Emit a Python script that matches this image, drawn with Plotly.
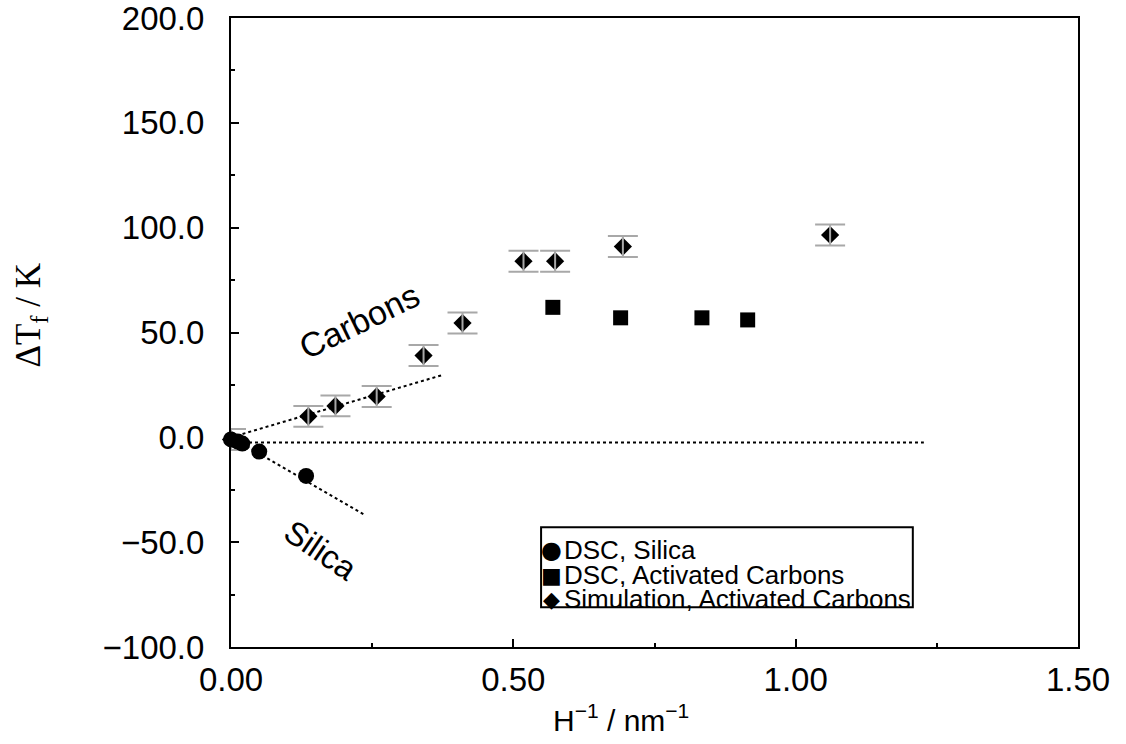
import plotly.graph_objects as go

# ---- data ----
silica_x = [0.0, 0.012, 0.02, 0.05, 0.133]
silica_y = [-1.0, -2.0, -3.0, -6.8, -18.4]

carbon_dsc_x = [0.57, 0.69, 0.834, 0.915]
carbon_dsc_y = [62.0, 57.0, 57.0, 56.0]

sim_x = [0.0, 0.137, 0.185, 0.258, 0.341, 0.41, 0.518, 0.574, 0.694, 1.061]
sim_y = [-1.0, 10.0, 15.0, 19.5, 39.0, 54.5, 84.0, 84.0, 91.0, 96.5]
sim_err = [5.0, 5.0, 5.0, 5.0, 5.0, 5.0, 5.0, 5.0, 5.0, 5.0]

carbon_fit_x = [0.0, 0.373]
carbon_fit_y = [0.0, 29.6]
silica_fit_x = [0.0, 0.238]
silica_fit_y = [0.0, -37.2]
zero_line_x = [0.0, 1.227]
zero_line_y = [-2.5, -2.5]

x_ticks = [0.0, 0.5, 1.0, 1.5]
y_ticks = [-100, -50, 0, 50, 100, 150, 200]

legend_labels = ["DSC, Silica", "DSC, Activated Carbons", "Simulation, Activated Carbons"]
legend_glyphs = ["\u25cf", "\u25a0", "\u25c6"]

SANS = "Liberation Sans, Arial, Helvetica, sans-serif"
SERIF = "Liberation Serif, Times New Roman, serif"

fig = go.Figure()

dot = dict(color="black", width=2, dash="3px,3px")
fig.add_trace(go.Scatter(x=zero_line_x, y=zero_line_y, mode="lines", line=dot,
                         showlegend=False, hoverinfo="skip"))
fig.add_trace(go.Scatter(x=carbon_fit_x, y=carbon_fit_y, mode="lines", line=dot,
                         showlegend=False, hoverinfo="skip"))
fig.add_trace(go.Scatter(x=silica_fit_x, y=silica_fit_y, mode="lines", line=dot,
                         showlegend=False, hoverinfo="skip"))

# simulation diamonds
fig.add_trace(go.Scatter(x=sim_x, y=sim_y, mode="markers", name=legend_labels[2],
                         marker=dict(symbol="diamond", size=14, color="black"),
                         cliponaxis=False, showlegend=False))
# error bars drawn on top (gray stem through the diamond)
fig.add_trace(go.Scatter(x=sim_x, y=sim_y, mode="markers",
                         marker=dict(size=1, color="rgba(0,0,0,0)"),
                         error_y=dict(type="data", array=sim_err, visible=True,
                                      color="#a8a8a8", thickness=2, width=15),
                         cliponaxis=False, showlegend=False, hoverinfo="skip"))
fig.add_trace(go.Scatter(x=carbon_dsc_x, y=carbon_dsc_y, mode="markers", name=legend_labels[1],
                         marker=dict(symbol="square", size=15, color="black"),
                         cliponaxis=False, showlegend=False))
fig.add_trace(go.Scatter(x=silica_x, y=silica_y, mode="markers", name=legend_labels[0],
                         marker=dict(symbol="circle", size=16, color="black"),
                         cliponaxis=False, showlegend=False))

# page geometry
W, H = 1126, 744
PL, PR, PT, PB = 230.7, 1078.3, 18.0, 646.7   # plot box in window pixels
L, T = PL, PT
R, B = W - PR, H - PB
pw, ph = PR - PL, PB - PT


def px_x(p):
    return (p - PL) / pw


def px_y(p):
    return (PB - p) / ph


annotations = [
    dict(text="\u0394T<sub>f</sub> / K", xref="paper", yref="paper",
         x=px_x(30), y=px_y(315), textangle=-90, showarrow=False,
         font=dict(family=SERIF, size=35, color="black"), xanchor="center", yanchor="middle"),
    dict(text="H<sup>\u22121</sup> / nm<sup>\u22121</sup>", xref="paper", yref="paper",
         x=px_x(621), y=px_y(718), showarrow=False,
         font=dict(family=SANS, size=30, color="black"), xanchor="center", yanchor="middle"),
    dict(text="Carbons", xref="x", yref="y", x=0.227, y=55.4, textangle=-26,
         showarrow=False, font=dict(family=SANS, size=34, color="black")),
    dict(text="Silica", xref="x", yref="y", x=0.160, y=-53.9, textangle=34,
         showarrow=False, font=dict(family=SANS, size=33, color="black")),
]

# legend box and entries
leg_left, leg_right, leg_top, leg_bottom = 541, 913, 527, 607
row_y = [550, 575, 599]
glyph_sizes = [24, 22, 22]
for g, gs, lab, ry in zip(legend_glyphs, glyph_sizes, legend_labels, row_y):
    annotations.append(dict(text=g, xref="paper", yref="paper", x=px_x(551), y=px_y(ry),
                            xanchor="center", yanchor="middle", showarrow=False, height=22,
                            borderpad=0,
                            font=dict(family="DejaVu Sans", size=gs, color="black")))
    annotations.append(dict(text=lab, xref="paper", yref="paper", x=px_x(563), y=px_y(ry),
                            xanchor="left", yanchor="middle", showarrow=False, height=24,
                            borderpad=0,
                            font=dict(family=SANS, size=26, color="black")))

shapes = [dict(type="rect", xref="paper", yref="paper",
               x0=px_x(leg_left), x1=px_x(leg_right), y0=px_y(leg_bottom), y1=px_y(leg_top),
               line=dict(color="black", width=2), fillcolor="white", layer="below")]

axis_common = dict(showline=True, linecolor="black", linewidth=2, mirror=True,
                   ticks="inside", ticklen=8, tickwidth=1.5, tickcolor="black",
                   showgrid=False, zeroline=False, ticklabeloverflow="allow",
                   tickfont=dict(family=SANS, size=33, color="black"))

fig.update_layout(
    width=W, height=H,
    margin=dict(l=L, r=R, t=T, b=B, autoexpand=False),
    paper_bgcolor="white", plot_bgcolor="white",
    showlegend=False,
    xaxis=dict(range=[0, 1.5], tickvals=x_ticks, tickformat=".2f", ticklabelstandoff=2,
               minor=dict(dtick=0.25, ticks="inside", ticklen=4, tickcolor="black", tickwidth=1.5),
               **axis_common),
    yaxis=dict(range=[-100, 200], tickvals=y_ticks, tickformat=".1f", ticklabelstandoff=18,
               minor=dict(dtick=25, ticks="inside", ticklen=4, tickcolor="black", tickwidth=1.5),
               **axis_common),
    annotations=annotations,
    shapes=shapes,
)

fig.write_html("out.html", config={"displayModeBar": False},
               post_script="document.body.style.margin='0';document.body.style.overflow='hidden';")
